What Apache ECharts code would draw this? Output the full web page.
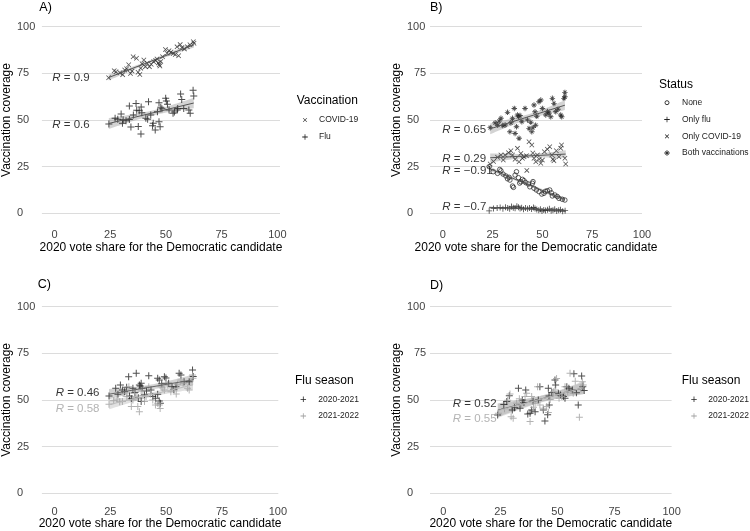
<!DOCTYPE html>
<html><head><meta charset="utf-8">
<script src="https://cdn.jsdelivr.net/npm/echarts@6/dist/echarts.min.js"></script>
<style>html,body{margin:0;padding:0;background:#fff}#c{width:750px;height:531px}</style>
</head><body><div id="c"></div><script>
// ---------------- data ----------------
const xTicks = [0, 25, 50, 75, 100];
const yTicks = [0, 25, 50, 75, 100];
const xTitle = '2020 vote share for the Democratic candidate';
const yTitle = 'Vaccination coverage';

// Panel A
const aCovid = [[24.3,72.6],[26.8,76.4],[27.6,75.9],[29.4,75.3],[30.6,74.3],[31.5,76.8],[32.4,77.5],[33.3,79.6],[34.1,74.9],[34.8,76.2],[35.3,83.9],[36.8,83.1],[37.5,75.6],[38.3,74.4],[38.7,77.8],[39.3,80.2],[40.1,82.2],[40.8,78.6],[41.6,80.4],[42.6,78.6],[43.4,79.9],[44.5,81.2],[45.4,81.9],[46.0,82.7],[46.6,80.6],[47.0,79.6],[47.3,78.9],[47.7,81.4],[48.5,83.9],[49.8,87.8],[50.5,85.8],[51.4,87.1],[52.3,86.4],[53.3,85.6],[54.2,85.1],[55.0,89.2],[55.7,84.4],[56.4,90.4],[57.2,88.8],[58.3,88.1],[59.6,89.3],[60.8,90.3],[62.3,91.9],[62.6,91.1]];
const aFlu = [[24.4,47.8],[27.2,51.0],[28.4,50.4],[29.9,53.2],[30.5,48.2],[30.8,50.1],[32.1,49.6],[33.6,57.5],[33.6,50.3],[34.3,46.3],[35.4,52.7],[36.6,58.8],[36.9,55.2],[37.6,46.5],[38.0,55.0],[38.8,42.5],[38.9,57.0],[39.2,53.9],[41.0,50.9],[41.8,50.4],[42.2,59.8],[43.2,52.7],[44.0,46.9],[44.3,48.3],[45.2,44.6],[46.2,54.4],[46.9,59.2],[46.9,49.1],[47.4,46.4],[47.7,56.8],[48.2,56.0],[49.9,61.6],[50.2,60.2],[50.7,58.5],[51.4,55.3],[53.2,53.6],[53.8,54.3],[55.1,55.3],[55.3,56.2],[56.6,63.9],[57.1,61.0],[58.0,56.2],[60.3,55.3],[60.9,53.6],[62.2,66.0],[62.5,62.8]];
const aNames = ['COVID-19', 'Flu'];
const aR = ['0.9', '0.6'];
const aRpos = [[-1.2, 72.5], [-1.2, 47.3]];

// Panel B
const bNone = [[23.3,25.0],[25.3,22.3],[27.5,21.4],[28.6,23.5],[29.2,22.8],[30.3,21.0],[31.7,20.0],[32.5,18.5],[33.3,19.3],[33.7,17.8],[35.0,14.6],[35.5,13.9],[36.3,20.5],[37.0,22.3],[38.0,19.1],[38.6,16.2],[39.2,16.9],[40.0,18.2],[40.8,17.5],[41.7,16.4],[43.0,15.7],[43.7,14.2],[45.0,16.1],[45.3,17.0],[45.8,13.4],[47.0,12.5],[48.3,11.6],[49.7,10.3],[50.8,10.7],[51.5,11.8],[52.5,12.1],[53.7,12.5],[54.5,11.0],[55.0,9.3],[56.3,9.8],[57.5,9.0],[58.3,8.0],[60.0,7.5],[61.3,7.1]];
const bOnlyFlu = [[23.3,1.3],[25.5,2.6],[27.3,2.8],[28.8,3.1],[30.2,2.5],[31.5,3.2],[32.6,2.9],[33.6,2.4],[34.5,3.6],[35.4,3.0],[36.3,2.7],[37.2,3.8],[38.0,3.3],[38.8,2.6],[39.6,3.0],[40.5,2.2],[41.5,2.8],[42.6,2.5],[43.5,2.9],[44.6,2.3],[45.5,3.1],[46.3,2.6],[47.2,2.0],[48.2,1.6],[49.0,2.2],[49.8,1.2],[50.7,1.8],[51.6,1.5],[52.6,1.9],[53.5,2.4],[54.4,1.3],[55.3,1.7],[56.2,2.2],[57.2,1.2],[58.2,1.6],[59.1,1.9],[60.2,1.1],[61.4,1.4]];
const bOnlyCovid = [[23.8,26.4],[25.5,27.8],[27.5,30.0],[29.2,31.2],[30.4,28.6],[31.3,31.2],[33.0,32.5],[34.2,33.5],[35.0,31.2],[36.3,28.9],[37.5,34.8],[38.3,27.6],[39.2,32.1],[40.0,29.5],[40.8,30.3],[42.0,30.8],[42.2,23.0],[43.3,38.3],[44.7,36.6],[45.2,32.3],[45.8,29.5],[46.7,27.6],[47.5,31.2],[48.4,29.0],[49.2,26.8],[50.0,28.5],[51.0,33.0],[52.5,34.3],[53.7,35.7],[54.7,31.2],[55.3,28.9],[55.8,28.2],[57.0,33.5],[58.3,30.3],[59.2,34.8],[59.6,36.6],[61.3,29.5],[61.7,26.4]];
const bBoth = [[23.8,45.9],[26.3,48.5],[27.6,47.2],[28.3,49.4],[29.2,50.9],[30.1,47.0],[31.3,47.3],[32.5,54.1],[33.7,43.7],[34.2,48.5],[35.0,50.9],[35.9,56.2],[36.3,42.8],[37.0,46.4],[37.5,52.7],[38.0,51.7],[38.3,40.2],[38.8,52.4],[39.7,49.1],[41.3,56.2],[42.5,50.0],[43.3,45.5],[44.2,48.8],[44.7,43.7],[45.3,45.9],[45.8,58.0],[46.3,54.4],[46.6,47.2],[47.2,52.0],[48.3,59.8],[49.2,60.7],[50.0,56.2],[51.7,52.7],[52.6,54.6],[53.3,53.6],[54.2,51.7],[55.0,61.6],[55.8,58.9],[56.7,54.4],[57.8,55.8],[59.2,52.7],[59.7,51.7],[60.8,61.6],[61.3,64.8],[61.3,62.5]];
const bNames = ['None', 'Only flu', 'Only COVID-19', 'Both vaccinations'];
const bR = ['0.65', '0.29', '\u22120.91', '\u22120.7'];
const bRpos = [[-0.5, 44.6], [-0.5, 29.4], [-0.5, 22.7], [-0.5, 3.5]];

// Panel C
const c2021 = [[24.4,52.1],[27.4,56.2],[28.4,53.0],[29.5,58.0],[30.4,55.3],[31.4,54.4],[32.3,56.8],[33.2,62.4],[33.6,52.1],[34.4,50.6],[35.1,56.2],[36.0,54.0],[36.6,64.3],[37.5,51.2],[38.0,58.0],[38.4,57.5],[38.8,58.9],[39.2,56.2],[38.8,49.1],[40.3,52.7],[41.2,54.8],[42.2,63.0],[43.2,55.3],[44.0,51.8],[45.2,50.9],[46.2,61.6],[46.9,60.7],[46.2,53.0],[46.9,49.4],[47.4,48.2],[48.0,58.6],[49.2,62.4],[49.9,61.8],[51.1,58.9],[52.6,57.1],[53.4,55.6],[54.4,57.1],[55.8,64.3],[56.6,63.4],[58.0,59.8],[60.3,59.8],[61.8,66.0],[62.1,62.5]];
const c2122 = [[24.4,47.7],[26.5,49.6],[28.0,50.5],[29.2,49.0],[30.7,53.6],[30.4,49.1],[32.4,51.8],[33.3,57.1],[34.4,46.4],[35.1,50.0],[35.8,53.6],[36.5,51.5],[37.3,46.4],[38.0,43.7],[38.8,54.8],[39.6,52.4],[40.3,49.1],[41.0,51.8],[42.2,57.1],[43.0,53.2],[44.0,50.0],[45.2,47.3],[46.2,48.2],[46.9,47.3],[47.3,45.4],[47.7,57.1],[48.5,56.4],[49.2,55.3],[50.7,58.0],[52.1,54.4],[53.6,55.3],[54.5,53.2],[55.1,58.4],[56.6,60.7],[57.6,58.9],[59.6,56.2],[60.3,55.3],[61.8,63.4],[62.0,61.6]];
const cR = ['0.46', '0.58'];
const cRpos = [[0.3, 54.0], [0.3, 45.4]];

// Panel D
const d2021 = [[23.8,41.9],[26.5,47.5],[27.8,49.1],[28.9,52.2],[30.2,44.6],[31.2,45.8],[32.9,56.2],[33.6,45.5],[34.6,50.0],[35.3,48.6],[36.1,55.3],[37.0,42.5],[38.0,42.8],[38.7,44.6],[39.3,49.4],[40.2,43.7],[41.6,50.0],[42.3,57.0],[43.8,44.6],[44.5,38.7],[45.7,42.0],[46.0,56.2],[46.3,52.1],[46.4,47.3],[47.5,54.0],[48.9,60.7],[49.2,58.0],[50.4,53.6],[51.3,52.6],[52.6,51.8],[53.3,50.9],[54.1,57.1],[55.0,56.3],[56.5,55.3],[57.2,64.0],[58.3,53.8],[59.1,47.3],[60.6,62.8],[61.1,57.1],[61.7,55.0]];
const d2122 = [[24.1,42.8],[26.8,45.2],[28.2,49.8],[29.2,53.2],[29.7,41.0],[30.6,40.2],[32.1,48.2],[33.3,50.6],[34.3,47.3],[35.8,51.8],[36.5,53.6],[38.0,38.4],[38.7,51.8],[39.5,46.0],[40.2,48.2],[41.3,57.1],[42.3,47.3],[43.8,45.5],[45.3,46.4],[46.0,43.2],[46.8,50.2],[48.2,54.4],[48.9,55.3],[49.6,61.5],[50.7,50.9],[51.9,51.8],[53.3,57.1],[54.5,54.4],[55.5,64.3],[56.9,53.6],[57.8,60.0],[59.6,40.7],[60.3,56.0],[60.9,59.8],[61.3,58.0]];
const dR = ['0.52', '0.55'];
const dRpos = [[3.9, 47.7], [3.9, 39.7]];
const seasonNames = ['2020-2021', '2021-2022'];

// ---------------- styling ----------------
const FONT = '"Liberation Sans", Arial, sans-serif';
const DARK = '#222', LIGHT = '#a0a0a0';
const SH_PLUS = [[[-0.85,-6],[0.85,-6],[0.85,-0.85],[6,-0.85],[6,0.85],[0.85,0.85],[0.85,6],[-0.85,6],[-0.85,0.85],[-6,0.85],[-6,-0.85],[-0.85,-0.85]]];
const SH_CROSS = [[[-4.4,-5.6],[5.6,4.4],[4.4,5.6],[-5.6,-4.4]], [[4.4,-5.6],[5.6,-4.4],[-4.4,5.6],[-5.6,4.4]]];
const SH_STAR = [[[-1,-6],[1,-6],[1,-1],[6,-1],[6,1],[1,1],[1,6],[-1,6],[-1,1],[-6,1],[-6,-1],[-1,-1]],
  [[-3.6,-4.6],[4.6,3.6],[3.6,4.6],[-4.6,-3.6]], [[3.6,-4.6],[4.6,-3.6],[-3.6,4.6],[-4.6,3.6]]];
function toPath(sh) {
  return 'path://' + sh.map(poly => 'M' + poly.map(q => q[0] + ',' + q[1]).join(' L') + ' Z').join(' ');
}

const panels = [
  {grid:{left:40, top:26.7, width:240, height:186.6}, xmin:-5.65, xmax:101.2, ylabM:25, shift75:false},
  {grid:{left:430, top:26.7, width:212, height:186.6}, xmin:-6.4, xmax:100, ylabM:23, shift75:true},
  {grid:{left:40, top:306.7, width:238.3, height:186.6}, xmin:-5.64, xmax:100.2, ylabM:25, shift75:false, low:true},
  {grid:{left:430, top:306.7, width:241.6, height:186.6}, xmin:-5.84, xmax:100, ylabM:23, shift75:true, low:true}
];

const grids = [], xAxes = [], yAxes = [], series = [];
panels.forEach((p, k) => {
  grids.push(p.grid);
  xAxes.push({
    gridIndex:k, type:'value', min:p.xmin, max:p.xmax,
    axisLine:{show:false}, axisTick:{show:false}, splitLine:{show:false},
    axisLabel:{customValues:xTicks, margin:p.low ? 13 : 16, color:'#444', fontSize:11, fontFamily:FONT},
    name:xTitle, nameLocation:'middle', nameGap:p.low ? 22 : 28,
    nameTextStyle:{color:'#000', fontSize:12, fontFamily:FONT}
  });
  yAxes.push({
    gridIndex:k, type:'value', min:0, max:100, interval:25,
    axisLine:{show:false}, axisTick:{show:false},
    splitLine:{show:true, lineStyle:{color:'#dcdcdc', width:1}},
    axisLabel:{align:'left', margin:p.ylabM, color:'#444', fontSize:11, fontFamily:FONT,
      formatter: v => (p.shift75 && v === 75) ? '{s|75}' : String(v),
      rich:{s:{padding:[0,0,0,7], color:'#444', fontSize:11, fontFamily:FONT}}},
    name:yTitle, nameLocation:'middle', nameGap:26, nameRotate:90,
    nameTextStyle:{color:'#000', fontSize:12, fontFamily:FONT}
  });
});

function lmFit(pts) {
  const n = pts.length;
  let mx = 0, my = 0;
  pts.forEach(p => { mx += p[0]; my += p[1]; });
  mx /= n; my /= n;
  let sxx = 0, sxy = 0;
  pts.forEach(p => { sxx += (p[0]-mx)*(p[0]-mx); sxy += (p[0]-mx)*(p[1]-my); });
  const b = sxy / sxx, a = my - b * mx;
  let sse = 0;
  pts.forEach(p => { const r = p[1] - (a + b*p[0]); sse += r*r; });
  const s = Math.sqrt(sse / (n - 2)), t = 2.02;
  const xs = pts.map(p => p[0]);
  const x0 = Math.min(...xs), x1 = Math.max(...xs);
  const up = [], lo = [];
  for (let i = 0; i <= 40; i++) {
    const x = x0 + (x1 - x0) * i / 40;
    const y = a + b * x;
    const se = s * Math.sqrt(1/n + (x-mx)*(x-mx)/sxx);
    up.push([x, y + t*se]); lo.push([x, y - t*se]);
  }
  return {line:[[x0, a+b*x0],[x1, a+b*x1]], up, lo};
}

function addGroup(k, name, pts, sym, size, color, opts) {
  opts = opts || {};
  const f = lmFit(pts);
  series.push({
    type:'custom', xAxisIndex:k, yAxisIndex:k, silent:true, z:1,
    data:[f.line[0]],
    renderItem:(params, api) => {
      const poly = f.up.map(q => api.coord(q)).concat(f.lo.slice().reverse().map(q => api.coord(q)));
      return {type:'polygon', shape:{points:poly}, style:{fill:opts.band || 'rgba(140,140,140,0.38)'}};
    }
  });
  series.push({
    type:'scatter', name, xAxisIndex:k, yAxisIndex:k, z:2, silent:true,
    data:pts, symbol:sym, symbolSize:size,
    itemStyle: opts.hollow ? {color:'rgba(0,0,0,0)', borderColor:color, borderWidth:0.9} : {color}
  });
  series.push({
    type:'line', xAxisIndex:k, yAxisIndex:k, z:3, silent:true,
    data:f.line, symbol:'none',
    lineStyle:{color:opts.line || '#555', width:1}
  });
}

function addR(k, value, pos, color) {
  series.push({
    type:'scatter', xAxisIndex:k, yAxisIndex:k, z:5, silent:true,
    data:[pos], symbolSize:1, itemStyle:{color:'rgba(0,0,0,0)'},
    label:{show:true, position:'right', distance:0, align:'left', verticalAlign:'middle',
      formatter:'{i|R} = ' + value, color, fontSize:11.5, fontFamily:FONT,
      rich:{i:{fontStyle:'italic', color, fontSize:11.5, fontFamily:FONT}}}
  });
}

// Panel A
addGroup(0, aNames[0], aCovid, toPath(SH_CROSS), 5, DARK);
addGroup(0, aNames[1], aFlu, toPath(SH_PLUS), 7, DARK);
aR.forEach((r, i) => addR(0, r, aRpos[i], '#000'));
// Panel B
addGroup(1, bNames[0], bNone, 'circle', 4.5, DARK, {hollow:true});
addGroup(1, bNames[1], bOnlyFlu, toPath(SH_PLUS), 6, DARK);
addGroup(1, bNames[2], bOnlyCovid, toPath(SH_CROSS), 5, DARK);
addGroup(1, bNames[3], bBoth, toPath(SH_STAR), 5.5, DARK);
bR.forEach((r, i) => addR(1, r, bRpos[i], '#000'));
// Panel C
addGroup(2, seasonNames[0], c2021, toPath(SH_PLUS), 7, DARK, {line:'#666'});
addGroup(2, seasonNames[1], c2122, toPath(SH_PLUS), 7, LIGHT, {line:'#bbb', band:'rgba(180,180,180,0.4)'});
addR(2, cR[0], cRpos[0], '#000');
addR(2, cR[1], cRpos[1], LIGHT);
// Panel D
addGroup(3, seasonNames[0], d2021, toPath(SH_PLUS), 7, DARK, {line:'#666'});
addGroup(3, seasonNames[1], d2122, toPath(SH_PLUS), 7, LIGHT, {line:'#bbb', band:'rgba(180,180,180,0.4)'});
addR(3, dR[0], dRpos[0], '#000');
addR(3, dR[1], dRpos[1], LIGHT);

// ---------------- legends & panel labels (graphic) ----------------
const graphic = [];
function txt(x, y, text, size, color) {
  graphic.push({type:'text', x, y, silent:true,
    style:{text, fontSize:size, fontFamily:FONT, fill:color || '#000', align:'left', verticalAlign:'middle'}});
}
function key(cx, cy, kind, color) {
  if (kind === 'circle') {
    graphic.push({type:'circle', silent:true, shape:{cx, cy, r:2}, style:{fill:'none', stroke:color, lineWidth:0.9}});
    return;
  }
  const sh = kind === 'plus' ? SH_PLUS : kind === 'cross' ? SH_CROSS : SH_STAR;
  const s = (kind === 'cross' ? 4.5 : 5.5) / 12;
  sh.forEach(poly => {
    graphic.push({type:'polygon', silent:true, shape:{points:poly.map(q => [cx + q[0]*s, cy + q[1]*s])}, style:{fill:color}});
  });
}
function legend(x, y, title, names, kinds, colors, symX, txtX, rowY) {
  txt(x, y, title, 12, '#000');
  names.forEach((n, i) => { key(symX, rowY[i], kinds[i], colors[i]); txt(txtX, rowY[i], n, 8.5, '#222'); });
}
legend(296.7, 101, 'Vaccination', aNames, ['cross','plus'], [DARK, DARK], 305, 319, [120, 137]);
legend(659, 84.5, 'Status', bNames, ['circle','plus','cross','star'], [DARK,DARK,DARK,DARK], 667, 682, [102.7, 119.5, 136.3, 153]);
legend(295, 381, 'Flu season', seasonNames, ['plus','plus'], [DARK, LIGHT], 303.3, 318.3, [399.3, 416]);
legend(681.7, 381, 'Flu season', seasonNames, ['plus','plus'], [DARK, LIGHT], 694, 708.3, [399.3, 416]);
txt(39.3, 7.5, 'A)', 12.5, '#000');
txt(430, 7.5, 'B)', 12.5, '#000');
txt(37.7, 285, 'C)', 12.5, '#000');
txt(430, 286, 'D)', 12.5, '#000');

const chart = echarts.init(document.getElementById('c'), null, {renderer:'canvas'});
chart.setOption({
  animation:false, backgroundColor:'#fff',
  grid:grids, xAxis:xAxes, yAxis:yAxes, series, graphic
});
</script></body></html>
